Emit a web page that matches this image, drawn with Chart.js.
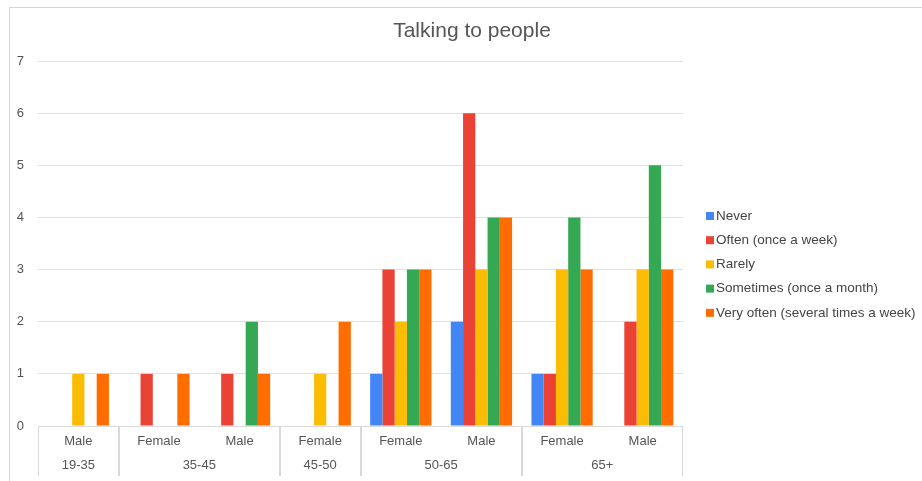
<!DOCTYPE html>
<html>
<head>
<meta charset="utf-8">
<script src="https://cdn.jsdelivr.net/npm/chart.js@4.4.1/dist/chart.umd.min.js"></script>
<style>
  body { margin: 0; background: #fff; }
  canvas { display: block; }
</style>
</head>
<body>
<canvas id="chartTalking" width="922" height="481"></canvas>
<script>
// categories (two level axis)
var genders = ['Male', 'Female', 'Male', 'Female', 'Female', 'Male', 'Female', 'Male'];
var ages = ['19-35', '35-45', '35-45', '45-50', '50-65', '50-65', '65+', '65+'];

// series
var seriesNames = ['Never', 'Often (once a week)', 'Rarely', 'Sometimes (once a month)', 'Very often (several times a week)'];
var seriesColors = ['#4285f4', '#ea4335', '#fbbc04', '#34a853', '#ff6d01'];
var never = [0, 0, 0, 0, 1, 2, 1, 0];
var often = [0, 1, 1, 0, 3, 6, 1, 2];
var rarely = [1, 0, 0, 1, 2, 3, 3, 3];
var sometimes = [0, 0, 2, 0, 3, 4, 4, 5];
var veryOften = [1, 1, 1, 2, 3, 4, 3, 3];

var yTicks = [0, 1, 2, 3, 4, 5, 6, 7];

var font = '"Liberation Sans", Arial, sans-serif';

var values = [never, often, rarely, sometimes, veryOften];
var datasets = [];
for (var i = 0; i < values.length; i++) {
    datasets.push({
        label: seriesNames[i],
        data: values[i],
        backgroundColor: seriesColors[i],
        borderWidth: 0
    });
}

// title, legend, grouped category axis and frame
var decorPlugin = {
    id: 'decor',
    afterDraw: function (chart) {
        var ctx = chart.ctx;
        var area = chart.chartArea;
        var x = chart.scales.x;
        ctx.save();

        // frame
        ctx.strokeStyle = '#d6d6d6';
        ctx.lineWidth = 1;
        ctx.beginPath();
        ctx.moveTo(9.5, 481);
        ctx.lineTo(9.5, 7.5);
        ctx.lineTo(922, 7.5);
        ctx.stroke();

        // title
        ctx.fillStyle = '#555555';
        ctx.font = '21px ' + font;
        ctx.textAlign = 'center';
        ctx.textBaseline = 'middle';
        ctx.fillText('Talking to people', 472, 31);

        // category boxes
        var half = (x.getPixelForValue(1) - x.getPixelForValue(0)) / 2;
        var bottom = 476;
        ctx.strokeStyle = '#d9d9d9';
        ctx.beginPath();
        ctx.moveTo(area.left, area.bottom + 0.5);
        ctx.lineTo(area.right, area.bottom + 0.5);
        ctx.stroke();

        ctx.font = '13px ' + font;
        ctx.fillStyle = '#555555';
        for (var i = 0; i < genders.length; i++) {
            ctx.fillText(genders[i], x.getPixelForValue(i), 441);
        }
        var start = 0;
        for (var j = 1; j <= ages.length; j++) {
            if (j === ages.length || ages[j] !== ages[start]) {
                var l = x.getPixelForValue(start) - half;
                var r = x.getPixelForValue(j - 1) + half;
                ctx.fillText(ages[start], (l + r) / 2, 465);
                ctx.beginPath();
                ctx.moveTo(Math.round(l) + 0.5, area.bottom);
                ctx.lineTo(Math.round(l) + 0.5, bottom);
                ctx.moveTo(Math.round(r) - 0.5, area.bottom);
                ctx.lineTo(Math.round(r) - 0.5, bottom);
                ctx.stroke();
                start = j;
            }
        }

        // legend
        ctx.textAlign = 'left';
        ctx.font = '13.5px ' + font;
        for (var k = 0; k < chart.data.datasets.length; k++) {
            var ds = chart.data.datasets[k];
            var cy = 216 + k * 24.2;
            ctx.fillStyle = ds.backgroundColor;
            ctx.fillRect(706, cy - 4, 8, 8);
            ctx.fillStyle = '#444444';
            ctx.fillText(ds.label, 716, cy);
        }
        ctx.restore();
    }
};

var ctx = document.getElementById('chartTalking').getContext('2d');
var chartT = new Chart(ctx, {
    type: 'bar',
    data: {
        labels: genders,
        datasets: datasets
    },
    options: {
        responsive: false,
        animation: false,
        layout: { padding: { left: 0, top: 61, right: 239, bottom: 55 } },
        datasets: { bar: { categoryPercentage: 0.76, barPercentage: 1 } },
        plugins: {
            legend: { display: false },
            title: { display: false },
            tooltip: { enabled: false }
        },
        scales: {
            x: { display: false },
            y: {
                min: 0,
                max: 7,
                afterFit: function (scale) { scale.width = 38; },
                afterBuildTicks: function (scale) {
                    scale.ticks = yTicks.map(function (v) { return { value: v }; });
                },
                border: { display: false },
                grid: { color: '#e0e0e0', drawTicks: false },
                ticks: {
                    padding: 14,
                    color: '#555555',
                    font: { family: font, size: 13 }
                }
            }
        }
    },
    plugins: [decorPlugin]
});
</script>
</body>
</html>
